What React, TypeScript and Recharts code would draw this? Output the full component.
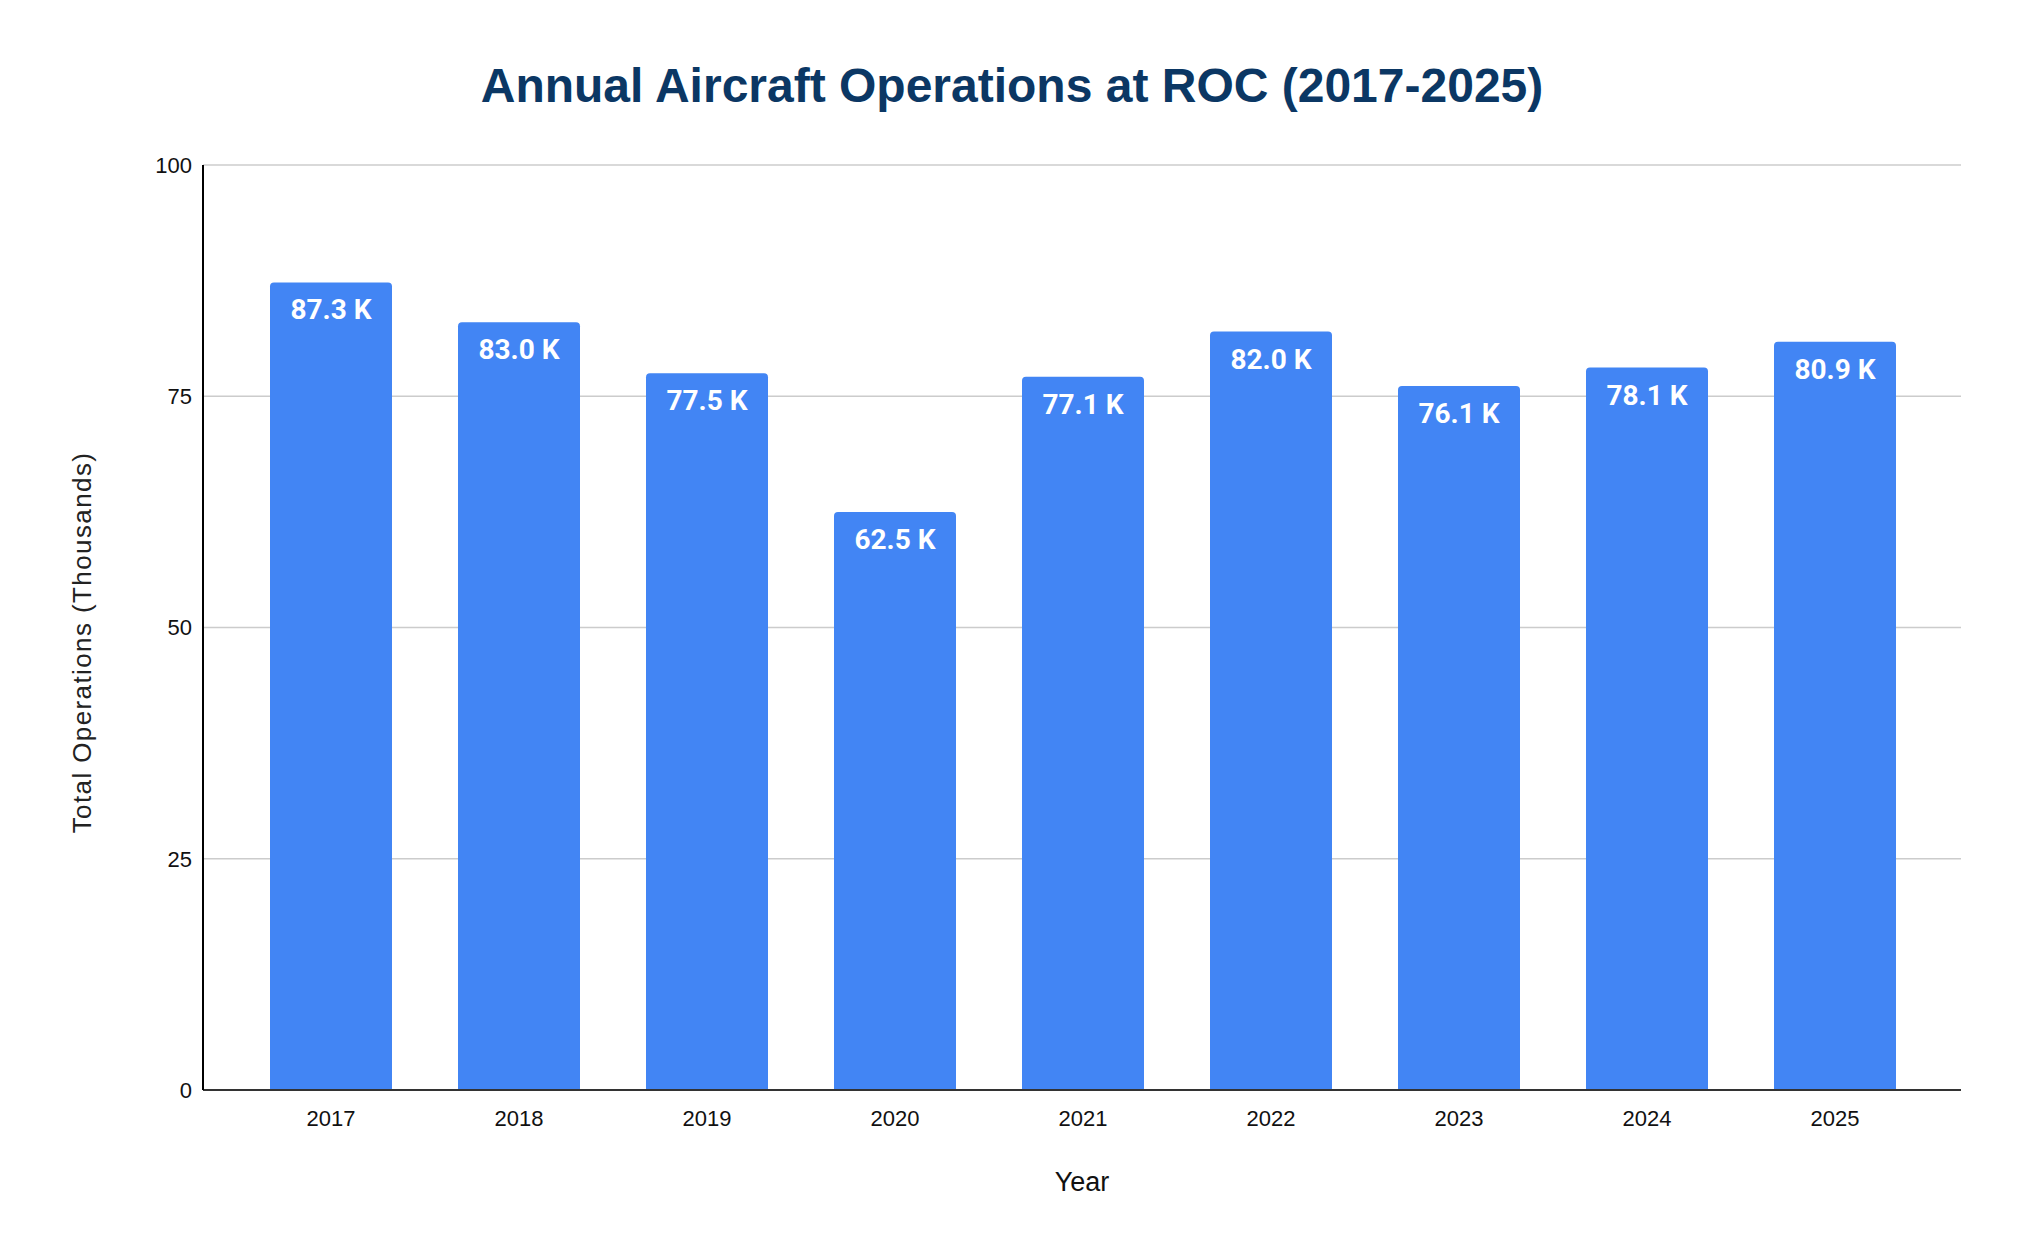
import { Bar, BarChart, CartesianGrid, Label, LabelList, XAxis, YAxis } from "recharts";

const years = ["2017", "2018", "2019", "2020", "2021", "2022", "2023", "2024", "2025"];
const operations = [87.3, 83.0, 77.5, 62.5, 77.1, 82.0, 76.1, 78.1, 80.9];
const yTicks = [0, 25, 50, 75, 100];

const data = years.map((year, i) => ({ year, ops: operations[i] }));

const ARIAL = "Arial, 'Liberation Sans', sans-serif";

function BarValue(props: any) {
  const { x, y, width, value } = props;
  return (
    <text
      x={x + width / 2}
      y={y + 37}
      textAnchor="middle"
      fill="#ffffff"
      fontFamily="Roboto, sans-serif"
      fontWeight={700}
      fontSize={28}
    >
      {`${Number(value).toFixed(1)} K`}
    </text>
  );
}

function YTitle(props: any) {
  const { viewBox } = props;
  const cy = viewBox.y + viewBox.height / 2 + 15;
  return (
    <text
      x={82}
      y={cy}
      transform={`rotate(-90, 82, ${cy})`}
      textAnchor="middle"
      dominantBaseline="central"
      fontFamily={ARIAL}
      fontSize={26}
      letterSpacing={1.4}
      fill="#222222"
    >
      Total Operations (Thousands)
    </text>
  );
}

export default function App() {
  return (
    <div style={{ position: "absolute", left: 0, top: 0, width: 2024, height: 1250, background: "#fff" }}>
      <div
        style={{
          position: "absolute",
          left: 0,
          top: 62,
          width: 2024,
          textAlign: "center",
          fontFamily: ARIAL,
          fontWeight: 700,
          fontSize: 48,
          lineHeight: 1,
          color: "#0b3764",
        }}
      >
        Annual Aircraft Operations at ROC (2017-2025)
      </div>
      <BarChart
        width={2024}
        height={1250}
        data={data}
        margin={{ top: 165, right: 63, left: 0, bottom: 0 }}
        barSize={122}
      >
        <CartesianGrid vertical={false} stroke="#cccccc" strokeWidth={1.5} />
        <XAxis
          dataKey="year"
          height={160}
          padding={{ left: 34, right: 32 }}
          tickLine={false}
          tickSize={0}
          tickMargin={20}
          stroke="#333333"
          strokeWidth={2}
          tick={{ fill: "#111111", fontSize: 22, fontFamily: ARIAL }}
        >
          <Label
            value="Year"
            position="insideBottom"
            offset={59}
            fill="#111111"
            fontSize={27}
            fontFamily={ARIAL}
          />
        </XAxis>
        <YAxis
          width={203}
          domain={[0, 100]}
          ticks={yTicks}
          tickLine={false}
          tickSize={0}
          tickMargin={11}
          stroke="#000000"
          strokeWidth={2}
          tick={{ fill: "#111111", fontSize: 22, fontFamily: ARIAL }}
        >
          <Label content={<YTitle />} />
        </YAxis>
        <Bar dataKey="ops" fill="#4285f4" radius={[4, 4, 0, 0]} isAnimationActive={false}>
          <LabelList dataKey="ops" content={<BarValue />} />
        </Bar>
      </BarChart>
    </div>
  );
}
